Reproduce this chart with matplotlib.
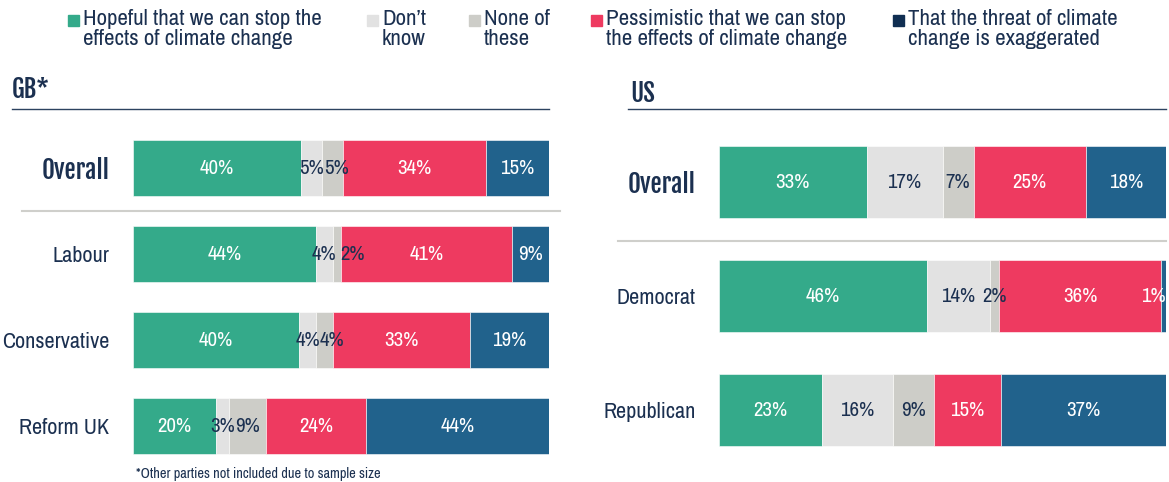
import matplotlib
matplotlib.use("agg")
import matplotlib.pyplot as plt
from matplotlib.lines import Line2D
from matplotlib.patches import Rectangle

plt.rcParams['font.family'] = ['Archivo Narrow', 'Roboto Condensed', 'DejaVu Sans']
HEAD = ['Fjalla One', 'Archivo Narrow', 'DejaVu Sans']

# data
series = ["Hopeful that we can stop the\neffects of climate change", "Don\u2019t\nknow", "None of\nthese",
          "Pessimistic that we can stop\nthe effects of climate change", "That the threat of climate\nchange is exaggerated"]
colors = ["#34aa8a", "#e2e2e2", "#cdcdc8", "#ee3a60", "#21628c"]
legend_colors = ["#34aa8a", "#e2e2e2", "#cdcdc8", "#ee3a60", "#102e52"]
text_on = ["white", "#1b3050", "#1b3050", "white", "white"]

gb_groups = ["Overall", "Labour", "Conservative", "Reform UK"]
gb_hopeful = [40, 44, 40, 20]
gb_dontknow = [5, 4, 4, 3]
gb_none = [5, 2, 4, 9]
gb_pessimistic = [34, 41, 33, 24]
gb_exaggerated = [15, 9, 19, 44]

us_groups = ["Overall", "Democrat", "Republican"]
us_hopeful = [33, 46, 23]
us_dontknow = [17, 14, 16]
us_none = [7, 2, 9]
us_pessimistic = [25, 36, 15]
us_exaggerated = [18, 1, 37]

NAVY = "#1b3050"
W, H = 1169, 482
fig = plt.figure(figsize=(W / 100, H / 100), dpi=100)


def px(x, y):
    return x / W, 1 - y / H


def hline(x0, x1, y, color, lw):
    (a, b), (c, d) = px(x0, y), px(x1, y)
    fig.add_artist(Line2D([a, c], [b, d], color=color, lw=lw, transform=fig.transFigure))


def panel(rect, groups, cols, bar_h):
    ax = fig.add_axes(rect)
    n = len(groups)
    rows = list(range(n))
    labels = []
    for i in rows:
        vals = [c[i] for c in cols]
        tot = sum(vals)
        left = 0
        row_labels = []
        for j, v in enumerate(vals):
            w = v / tot * 100
            ax.barh(i, w, left=left, height=bar_h, color=colors[j], edgecolor="white", linewidth=0.4)
            t = ax.text(left + w / 2, i, f"{v}%", ha="center", va="center", color=text_on[j], fontsize=15)
            row_labels.append(t)
            left += w
        labels.append(row_labels)
    ax.set_xlim(0, 100)
    ax.set_ylim(n - 0.5, -0.5)
    ax.set_yticks(rows, groups)
    ax.tick_params(axis="y", length=0, pad=17, labelsize=16, labelcolor=NAVY)
    first = ax.yaxis.get_ticklabels()[0]
    first.set_family(HEAD)
    first.set_fontsize(18)
    ax.set_xticks([])
    for s in ax.spines.values():
        s.set_visible(False)
    return ax, labels


gb_ax, gb_labels = panel([133 / W, 1 - 469 / H, 416 / W, 344 / H], gb_groups,
                         [gb_hopeful, gb_dontknow, gb_none, gb_pessimistic, gb_exaggerated], 0.64)
us_ax, us_labels = panel([719 / W, 1 - 467 / H, 447 / W, 342 / H], us_groups,
                         [us_hopeful, us_dontknow, us_none, us_pessimistic, us_exaggerated], 0.63)

# nudge labels that collide
fig.canvas.draw()
r = fig.canvas.get_renderer()
for ax, labels in [(gb_ax, gb_labels), (us_ax, us_labels)]:
    inv = ax.transData.inverted()
    x_end = ax.transData.transform((100, 0))[0]
    for row in labels:
        prev_right = None
        for t in row:
            bb = t.get_window_extent(r)
            shift = 0
            if prev_right is not None and prev_right - bb.x0 > 0:
                gap = 4 if prev_right - bb.x0 > 8 else 0
                shift = prev_right + gap - bb.x0
            if bb.x1 + shift > x_end:
                shift = x_end - bb.x1
            if shift:
                cx = (bb.x0 + bb.x1) / 2 + shift
                y0 = ax.transData.transform(t.get_position())[1]
                t.set_x(inv.transform((cx, y0))[0])
            prev_right = bb.x1 + shift

# headers and rules
fig.text(*px(12, 98), "GB*", fontsize=18, family=HEAD, color=NAVY, va="baseline")
fig.text(*px(630, 102), "US", fontsize=18, family=HEAD, color=NAVY, va="baseline")
hline(12, 549, 109, "#2c4260", 1.0)
hline(628, 1166, 109, "#2c4260", 1.0)
hline(22, 560, 211, "#cfcfcb", 1.5)
hline(618, 1166, 241, "#cfcfcb", 1.5)

# legend
leg_x = [68, 367, 469, 591, 893]
for x, lab, c in zip(leg_x, series, legend_colors):
    x0, y0 = px(x, 26)
    fig.add_artist(Rectangle((x0, y0), 11 / W, 11 / H, color=c, transform=fig.transFigure))
    fig.text(*px(x + 15, 9), lab, fontsize=16.5, color=NAVY, va="top", ha="left", linespacing=1.0)

fig.text(*px(136, 478), "*Other parties not included due to sample size", fontsize=10.3, color=NAVY, va="baseline")

fig.savefig("out.png", dpi=100)
plt.close(fig)
